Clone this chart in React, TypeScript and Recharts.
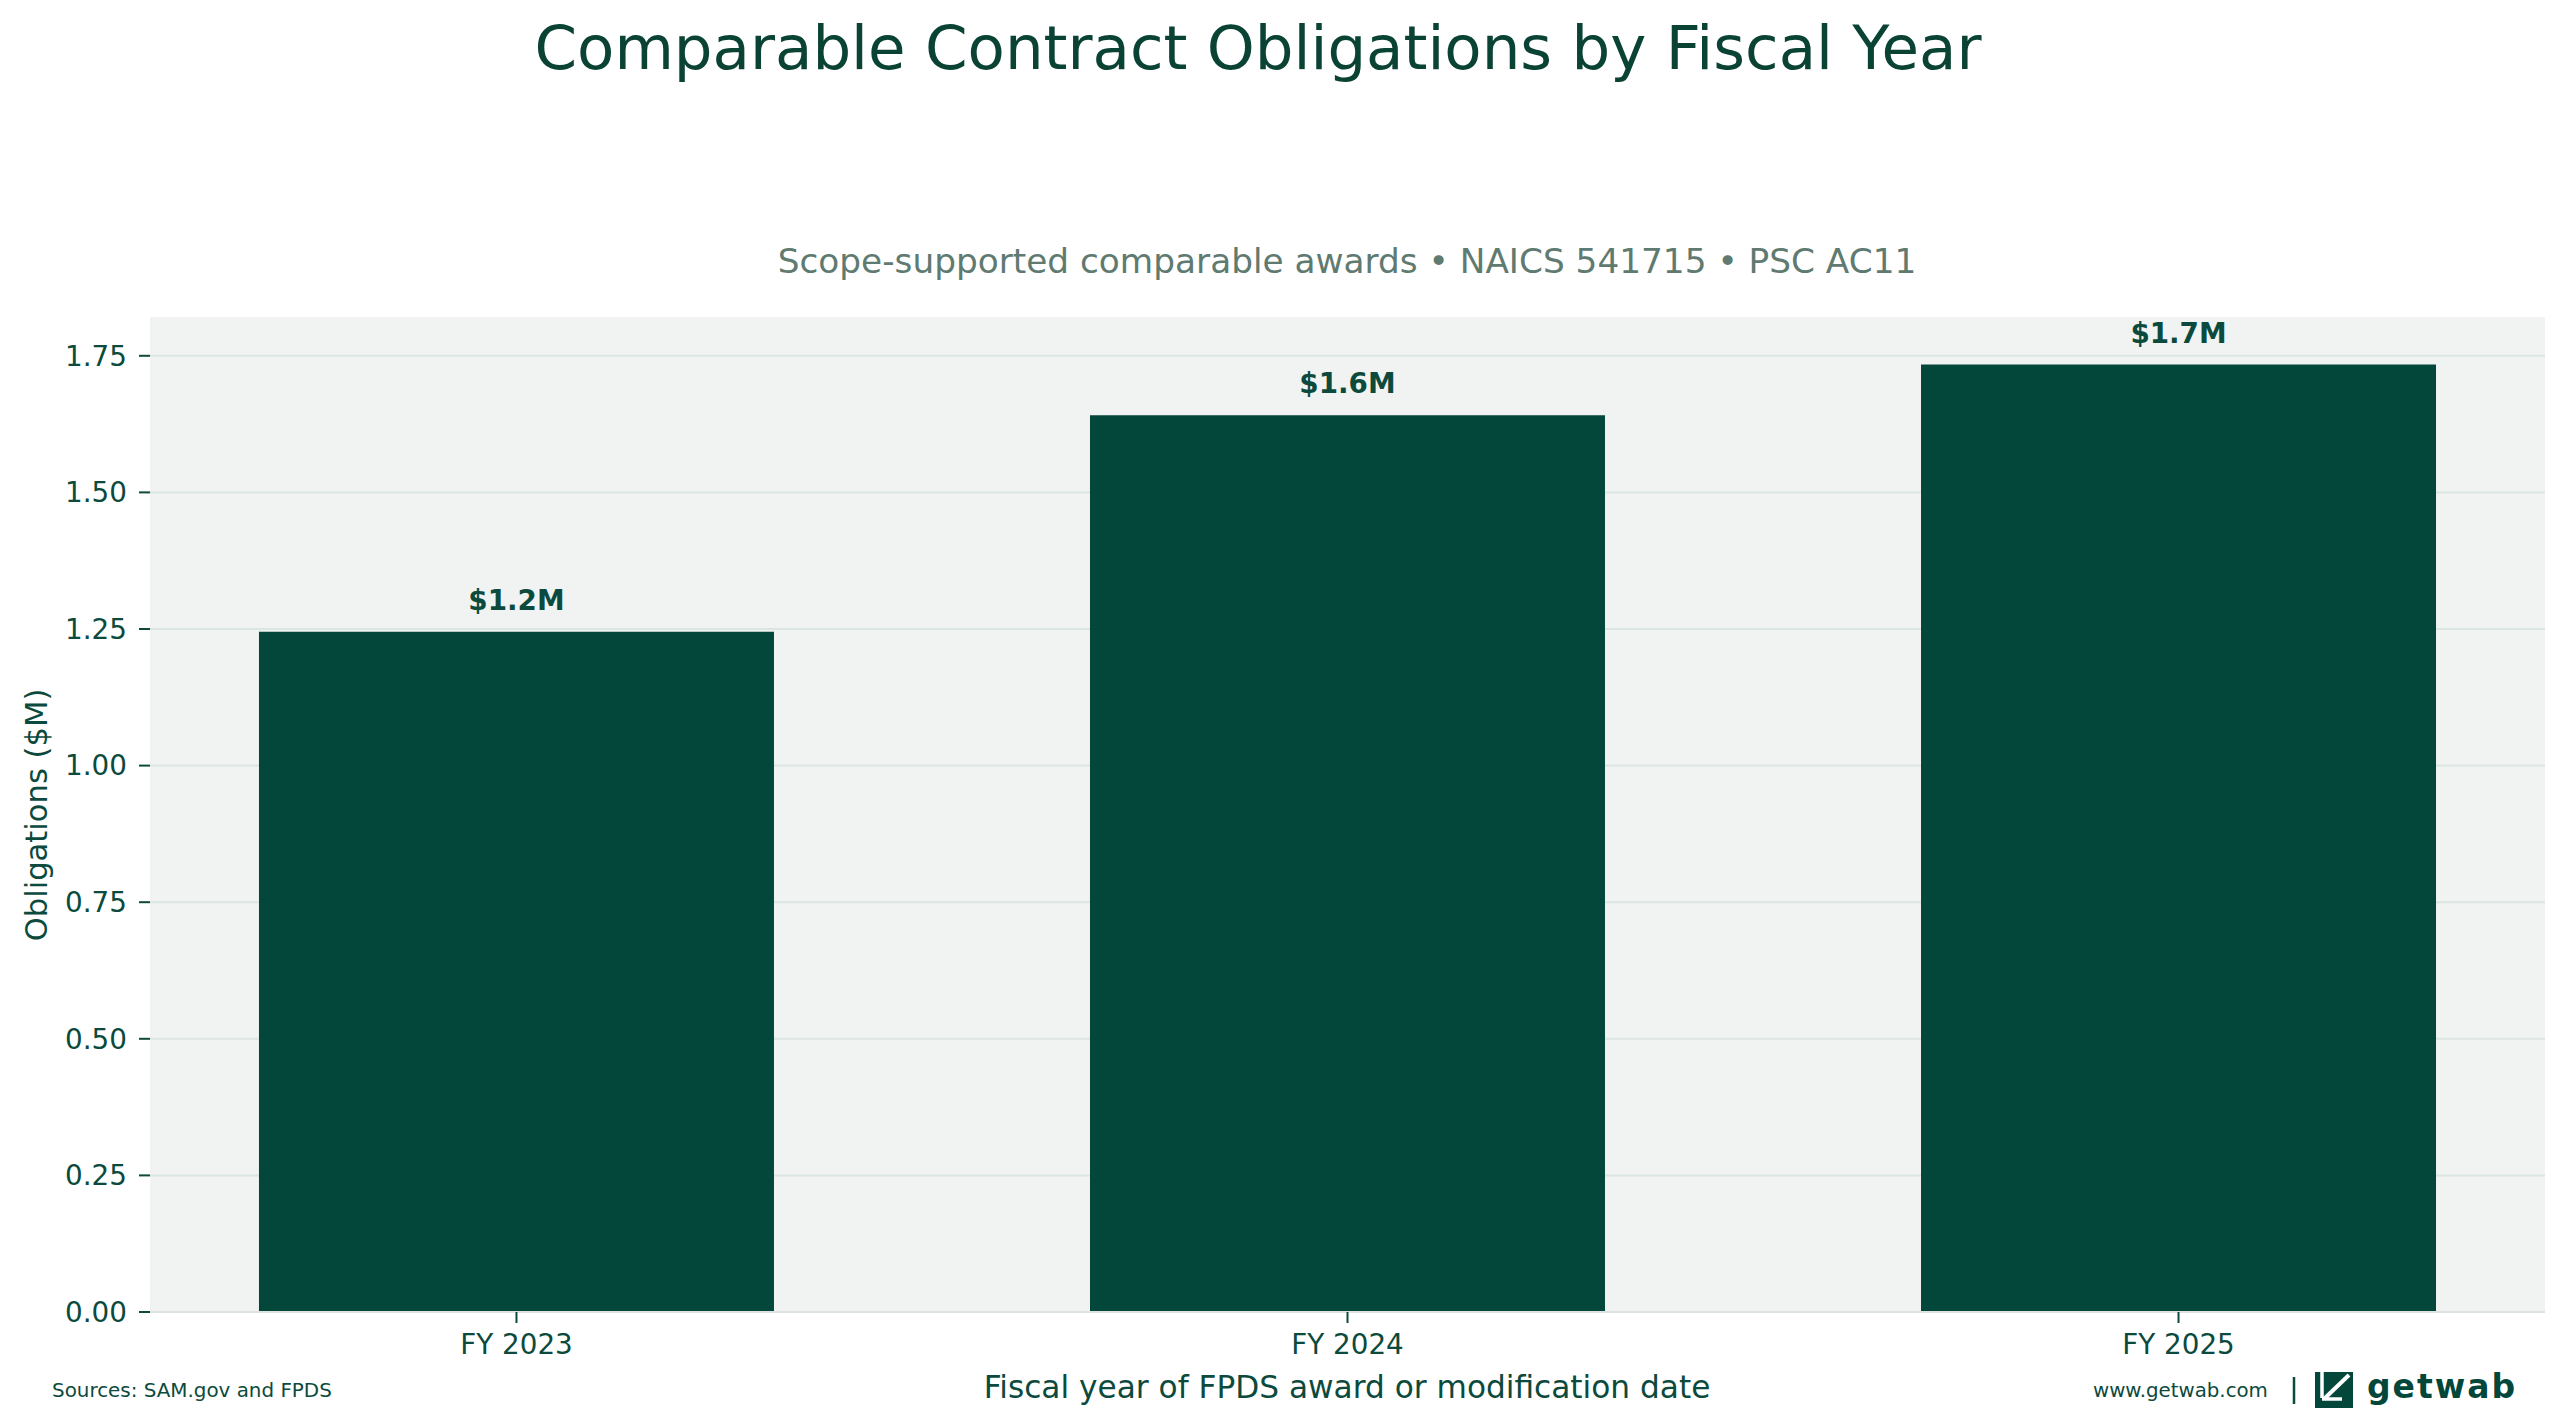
import React from 'react';
import { BarChart, Bar, XAxis, YAxis, CartesianGrid, LabelList } from 'recharts';

// values, in $M
const fiscalYears = ['FY 2023', 'FY 2024', 'FY 2025'];
const obligations = [1.245, 1.641, 1.734];
const yTicks = [0, 0.25, 0.5, 0.75, 1, 1.25, 1.5, 1.75];

const data = fiscalYears.map((fy, i) => ({ idx: i, fy, value: obligations[i] }));
const xTicks = fiscalYears.map((_, i) => i);

const FONT = '"DejaVu Sans", sans-serif';
const BAR = '#03463a';
const INK = '#0b4a3c';
const MUTED = '#5f7a70';
const W = 2566;
const H = 1427;

function Logo() {
  return (
    <g>
      <rect x={2315} y={1372} width={38} height={36} fill={BAR} />
      <line x1={2322} y1={1372} x2={2322} y2={1398} stroke="#fff" strokeWidth={3.5} />
      <line x1={2349} y1={1375} x2={2324} y2={1399} stroke="#fff" strokeWidth={4} />
      <line x1={2322} y1={1399} x2={2342} y2={1399} stroke="#fff" strokeWidth={3.5} />
      <text x={2367} y={1398} fontFamily={FONT} fontWeight="bold" fontSize={33} letterSpacing={2} fill={BAR}>
        getwab
      </text>
    </g>
  );
}

export default function App() {
  return (
    <div style={{ position: 'absolute', left: 0, top: 0, width: W, height: H, background: '#fff' }}>
      <BarChart
        width={W}
        height={H}
        data={data}
        margin={{ top: 317, right: 21, bottom: 0, left: 0 }}
      >
        <CartesianGrid
          vertical={false}
          syncWithTicks
          fill="#f1f3f2"
          stroke="#dbe5e1"
          strokeWidth={2}
        />
        <XAxis
          type="number"
          dataKey="idx"
          domain={[-0.441, 2.441]}
          ticks={xTicks}
          interval={0}
          height={115}
          tickFormatter={(i: number) => fiscalYears[i]}
          tick={{ fill: INK, fontSize: 27.8, fontFamily: FONT }}
          tickLine={{ stroke: INK, strokeWidth: 2 }}
          tickSize={11}
          tickMargin={11}
          axisLine={{ stroke: '#dde3e0', strokeWidth: 2 }}
        />
        <YAxis
          type="number"
          domain={[0, 1.821]}
          ticks={yTicks}
          interval={0}
          width={150}
          tickFormatter={(v: number) => v.toFixed(2)}
          tick={{ fill: INK, fontSize: 27.8, fontFamily: FONT }}
          tickLine={{ stroke: INK, strokeWidth: 2 }}
          tickSize={11}
          tickMargin={12}
          axisLine={false}
        />
        <Bar dataKey="value" fill={BAR} barSize={515} isAnimationActive={false}>
          <LabelList
            dataKey="value"
            position="top"
            offset={22}
            formatter={(v: number) => `$${Number(v).toFixed(1)}M`}
            fill={INK}
            fontSize={27.8}
            fontWeight="bold"
            fontFamily={FONT}
          />
        </Bar>
      </BarChart>

      <svg
        width={W}
        height={H}
        style={{ position: 'absolute', left: 0, top: 0, pointerEvents: 'none' }}
      >
        <text x={1258} y={69} textAnchor="middle" fontFamily={FONT} fontSize={61} fill="#0a4234">
          Comparable Contract Obligations by Fiscal Year
        </text>
        <text x={1347} y={273} textAnchor="middle" fontFamily={FONT} fontSize={34.3} fill={MUTED}>
          Scope-supported comparable awards • NAICS 541715 • PSC AC11
        </text>
        <text
          transform="translate(47,815) rotate(-90)"
          textAnchor="middle"
          fontFamily={FONT}
          fontSize={30.6}
          fill={INK}
        >
          Obligations ($M)
        </text>
        <text x={1347} y={1398} textAnchor="middle" fontFamily={FONT} fontSize={31.2} fill={INK}>
          Fiscal year of FPDS award or modification date
        </text>
        <text x={52} y={1397} fontFamily={FONT} fontSize={19.9} fill={INK}>
          Sources: SAM.gov and FPDS
        </text>
        <text x={2093} y={1397} fontFamily={FONT} fontSize={19.8} fill={INK}>
          www.getwab.com
        </text>
        <line x1={2294} y1={1377} x2={2294} y2={1404} stroke={INK} strokeWidth={2.5} />
        <Logo />
      </svg>
    </div>
  );
}
